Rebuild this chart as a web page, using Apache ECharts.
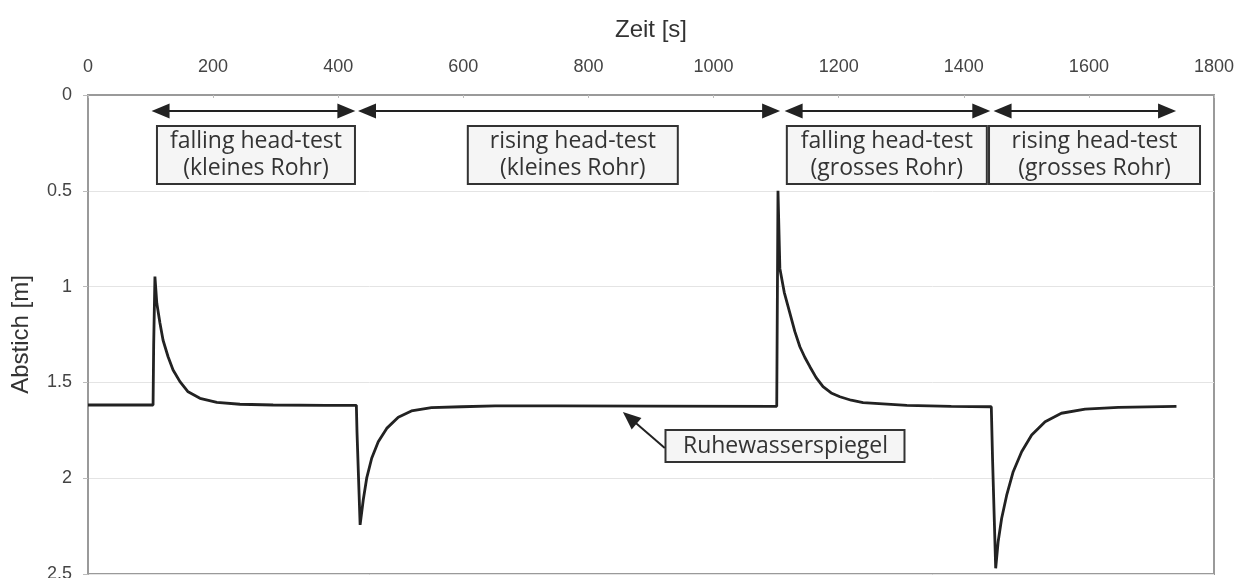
<!DOCTYPE html>
<html>
<head>
<meta charset="utf-8">
<title>Abstich</title>
<script src="https://cdn.jsdelivr.net/npm/echarts@6/dist/echarts.min.js"></script>
<style>
  html, body { margin: 0; padding: 0; background: #fff; }
  #chart { width: 1239px; height: 578px; }
</style>
</head>
<body>
<div id="chart"></div>
<script>
// Zeit [s]
const zeit = [0, 104, 105, 107, 110, 115, 120, 128, 136, 147, 160, 179, 206, 243, 296, 380, 429,
  430, 432, 435, 440, 445.5, 453.5, 464, 477.5, 496, 517, 549, 597, 651, 750, 900, 1101,
  1103, 1106, 1113, 1122, 1130, 1138, 1146, 1154, 1164, 1175, 1188, 1202, 1220, 1239, 1309, 1380, 1444,
  1446, 1451, 1455, 1460.5, 1468.5, 1479, 1492.5, 1508.5, 1530, 1556, 1594, 1647, 1740]
// Abstich [m]
const abstich = [1.618, 1.618, 1.3, 0.948, 1.087, 1.19, 1.28, 1.366, 1.435, 1.496, 1.549, 1.583, 1.604, 1.614, 1.618, 1.62, 1.62,
  1.757, 1.76, 2.244, 2.114, 2.0, 1.896, 1.81, 1.74, 1.682, 1.649, 1.632, 1.627, 1.623, 1.623, 1.624, 1.625,
  0.5, 0.905, 1.03, 1.139, 1.235, 1.314, 1.37, 1.418, 1.475, 1.522, 1.555, 1.575, 1.593, 1.606, 1.62, 1.625, 1.627,
  1.9, 2.47, 2.33, 2.21, 2.09, 1.966, 1.862, 1.775, 1.705, 1.661, 1.639, 1.63, 1.625]

const xTicks = [0, 200, 400, 600, 800, 1000, 1200, 1400, 1600, 1800]
const yTicks = [0, 0.5, 1, 1.5, 2, 2.5]

// Doppelpfeile der Versuchsabschnitte [von, bis] (Pfeilspitzen) bei Abstich 0.083
const abschnitte = [[102, 427], [432, 1106], [1114, 1442], [1448, 1739]]
const pfeilHoehe = 0.083
// Beschriftungsboxen: Text, Mitte (Zeit, Abstich), Breite
const boxTexte = ['falling head-test\n(kleines Rohr)', 'rising head-test\n(kleines Rohr)',
  'falling head-test\n(grosses Rohr)', 'rising head-test\n(grosses Rohr)']
const boxMitten = [[268.5, 0.313], [775, 0.313], [1277, 0.313], [1609, 0.313]]
const boxBreiten = [198, 210, 200, 211]
// Ruhewasserspiegel-Hinweis (Ende, Mitte der Spitze)
const ruheText = 'Ruhewasserspiegel'
const ruhePfeil = [[922, 1.842], [866, 1.685]]
const ruheBoxMitte = [1115, 1.832]

// Dreieck sitzt mittig auf dem Endpunkt -> Endpunkt um halbe Spitze nach innen
const versatz = 14

const chart = echarts.init(document.getElementById('chart'))

const option = {
  animation: false,
  grid: {
    left: 88, right: 25, top: 95, bottom: 4,
    outerBoundsMode: 'none', containLabel: false,
    show: true, borderColor: '#9a9a9a', borderWidth: 2
  },
  xAxis: {
    type: 'value', position: 'top',
    min: xTicks[0], max: xTicks[xTicks.length - 1], interval: 200,
    name: 'Zeit [s]', nameLocation: 'middle', nameGap: 53,
    nameTextStyle: { fontFamily: 'Liberation Sans', fontSize: 24, color: '#333' },
    axisLine: { show: true, lineStyle: { color: '#9a9a9a', width: 2 } },
    axisTick: { show: true, inside: true, length: 3, lineStyle: { color: '#bbb' } },
    axisLabel: { fontFamily: 'Liberation Sans', fontSize: 18, color: '#444', margin: 19,
      formatter: v => String(v) },
    splitLine: { show: false }
  },
  yAxis: {
    type: 'value', inverse: true,
    min: yTicks[0], max: yTicks[yTicks.length - 1], interval: 0.5,
    name: 'Abstich [m]', nameLocation: 'middle', nameGap: 55, nameRotate: 90,
    nameTextStyle: { fontFamily: 'Liberation Sans', fontSize: 24, color: '#333' },
    axisLine: { show: true, lineStyle: { color: '#9a9a9a', width: 2 } },
    axisTick: { show: true, length: 5, lineStyle: { color: '#bbb' } },
    axisLabel: { fontFamily: 'Liberation Sans', fontSize: 18, color: '#444', margin: 16 },
    splitLine: { show: true, lineStyle: { color: '#e4e4e4', width: 1 } }
  },
  series: [
    {
      type: 'line',
      data: zeit.map((t, i) => [t, abstich[i]]),
      showSymbol: false,
      lineStyle: { color: '#222', width: 2.8 },
      markLine: {
        silent: true,
        symbol: ['triangle', 'triangle'],
        symbolSize: [15, 18],
        label: { show: false },
        lineStyle: { color: '#222', width: 2, type: 'solid' },
        data: abschnitte.map(a => [
          { coord: [a[0] + versatz, pfeilHoehe] },
          { coord: [a[1] - versatz, pfeilHoehe] }
        ]).concat([[{ coord: ruhePfeil[0], symbol: 'none' }, { coord: ruhePfeil[1], symbol: 'triangle' }]])
      }
    }
  ]
}
chart.setOption(option)

// Beschriftungsboxen in Pixel umrechnen
const graphics = []
boxTexte.forEach((txt, i) => {
  const p = chart.convertToPixel({ gridIndex: 0 }, boxMitten[i])
  const w = boxBreiten[i], h = 58
  graphics.push({
    type: 'rect',
    shape: { x: p[0] - w / 2, y: p[1] - h / 2, width: w, height: h },
    style: { fill: '#f5f5f5', stroke: '#333', lineWidth: 2 }
  })
  graphics.push({
    type: 'text',
    x: p[0], y: p[1],
    style: {
      text: txt, fill: '#333', font: '23px "Open Sans"',
      textAlign: 'center', textVerticalAlign: 'middle', lineHeight: 27
    }
  })
})
const rp = chart.convertToPixel({ gridIndex: 0 }, ruheBoxMitte)
graphics.push({
  type: 'rect',
  shape: { x: rp[0] - 120, y: rp[1] - 16, width: 239, height: 32 },
  style: { fill: '#f5f5f5', stroke: '#333', lineWidth: 2 }
})
graphics.push({
  type: 'text',
  x: rp[0], y: rp[1],
  style: {
    text: ruheText, fill: '#333', font: '23px "Open Sans"',
    textAlign: 'center', textVerticalAlign: 'middle'
  }
})
chart.setOption({ graphic: graphics })
</script>
</body>
</html>
